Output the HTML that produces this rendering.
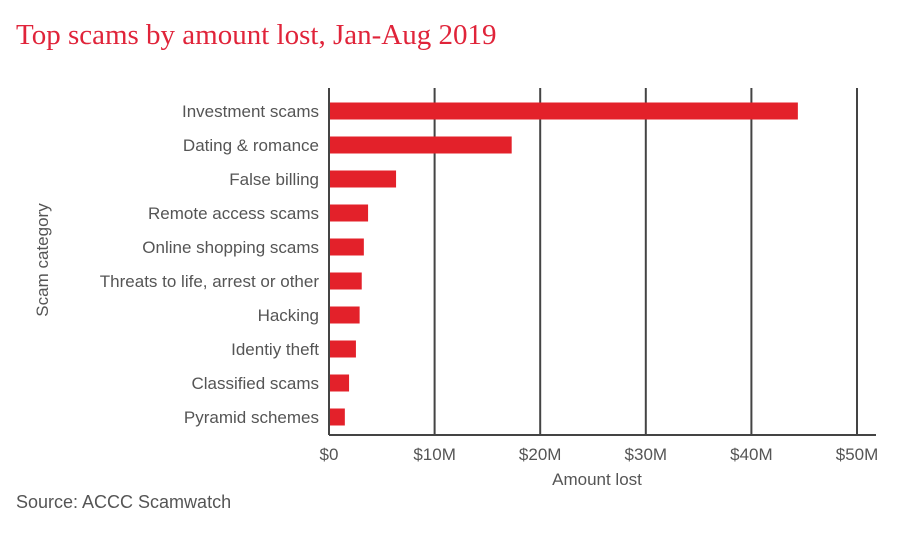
<!DOCTYPE html>
<html><head><meta charset="utf-8"><style>
body{margin:0;background:#fff;width:912px;height:531px;overflow:hidden;font-family:"Liberation Sans",sans-serif}
</style></head><body>
<svg width="912" height="531">
<text x="16" y="44" font-family="Liberation Serif,serif" font-size="29" fill="#e0243a">Top scams by amount lost, Jan-Aug 2019</text>
<g id="grid"></g>
<g id="bars"></g>
<g id="ylabels"></g>
<g id="xlabels"></g>
<line x1="329" y1="435" x2="876" y2="435" stroke="#444" stroke-width="2"/>
<line x1="329" y1="88" x2="329" y2="435" stroke="#444" stroke-width="2"/>
<text x="597" y="485" text-anchor="middle" font-size="17" fill="#555">Amount lost</text>
<text transform="translate(48,260) rotate(-90)" text-anchor="middle" font-size="17" fill="#555">Scam category</text>
<text x="16" y="508" font-size="18" fill="#555">Source: ACCC Scamwatch</text>
</svg>
<script>
const categories=["Investment scams","Dating & romance","False billing","Remote access scams","Online shopping scams","Threats to life, arrest or other","Hacking","Identiy theft","Classified scams","Pyramid schemes"];
const values=[44.4,17.3,6.35,3.7,3.3,3.1,2.9,2.55,1.9,1.5];
const ticks=[0,10,20,30,40,50];
const tickLabels=["$0","$10M","$20M","$30M","$40M","$50M"];
const NS="http://www.w3.org/2000/svg";
const x=v=>329+v*10.56;
const y=i=>111+i*34;
function mk(t,a,p){const e=document.createElementNS(NS,t);for(const k in a)e.setAttribute(k,a[k]);p.appendChild(e);return e;}
const g=document.getElementById('grid'),xl=document.getElementById('xlabels');
ticks.forEach((t,i)=>{
 if(t>0){const l=mk('line',{x1:x(t),x2:x(t),y1:88,y2:435,stroke:'#444','stroke-width':2},g);
 
 }
 const tx=mk('text',{x:x(t),y:460,'text-anchor':'middle','font-size':17,fill:'#555'},xl);
 tx.textContent=tickLabels[i];
 
 
});
const b=document.getElementById('bars'),yl=document.getElementById('ylabels');
categories.forEach((c,i)=>{
 const r=mk('rect',{x:329,y:y(i)-8.5,width:x(values[i])-329,height:17,fill:'#e3212a'},b);
 
 
 const t=mk('text',{x:319,y:y(i)+6,'text-anchor':'end','font-size':17,fill:'#555'},yl);
 t.textContent=c;
 
 
});
</script>
</body></html>
